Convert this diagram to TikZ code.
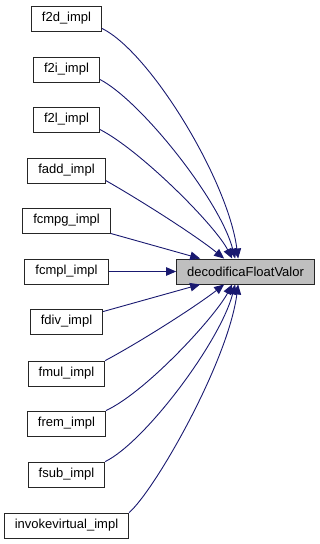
\documentclass[tikz,border=0pt]{standalone}
\usepackage{fontspec}
\setmainfont{Liberation Sans}
\usepackage{tikz}
\usetikzlibrary{arrows.meta}
\usepackage{xcolor}
\definecolor{edgeblue}{RGB}{25,25,112}
\definecolor{boxgray}{RGB}{191,191,191}

\begin{document}
\begin{tikzpicture}[x=1pt, y=1pt,
    caller/.style={draw=black!85, line width=0.9pt, fill=white, inner xsep=10.5pt,
        inner ysep=0pt, minimum height=25pt, font=\fontsize{13}{15}\selectfont},
    callee/.style={caller, fill=boxgray},
    edge/.style={draw=edgeblue, line width=0.9pt, -{Triangle[length=10pt,width=8.5pt]}}]
        \useasboundingbox (0,0) rectangle (320,-544);
        \node[callee] (dec) at (245.5,-271.5) {decodificaFloatValor};
        \foreach \nm/\txt/\y in {f2d/f2d\_impl/18.5, f2i/f2i\_impl/69.5, f2l/f2l\_impl/119.5,
            fadd/fadd\_impl/170.5, fcmpg/fcmpg\_impl/220.5, fcmpl/fcmpl\_impl/271.5,
            fdiv/fdiv\_impl/321.5, fmul/fmul\_impl/373.5, frem/frem\_impl/423.5,
            fsub/fsub\_impl/474.5, invoke/invokevirtual\_impl/525.5}{
        \node[caller] (\nm) at (66.5,-\y) {\txt};}
        % callers above the target bend down onto its top side
        \foreach \nm/\ax/\ay/\bx/\by/\dx in {f2d/150/52/228/180/62, f2i/140/100/220/200/59,
            f2l/140/150/215/225/56, fadd/140/200/195/235/48}{
        \draw[edge] ([yshift=3pt]\nm.south east) .. controls (\ax,-\ay) and (\bx,-\by) .. ([xshift=\dx pt]dec.north west);}
        % callers below the target bend up onto its bottom side
        \foreach \nm/\ax/\ay/\bx/\by/\dx in {invoke/155/490/228/362/62, fsub/145/442/220/342/59,
            frem/146/392/215/317/56, fmul/140/342/195/307/48}{
        \draw[edge] (\nm.north east) .. controls (\ax,-\ay) and (\bx,-\by) .. ([xshift=\dx pt]dec.south west);}
        \draw[edge] (fcmpg.south east) -- ([xshift=24pt]dec.north west);
        \draw[edge] (fcmpl) -- (dec);
        \draw[edge] ([yshift=-3pt]fdiv.north east) -- ([xshift=24pt]dec.south west);
    \end{tikzpicture}
\end{document}
